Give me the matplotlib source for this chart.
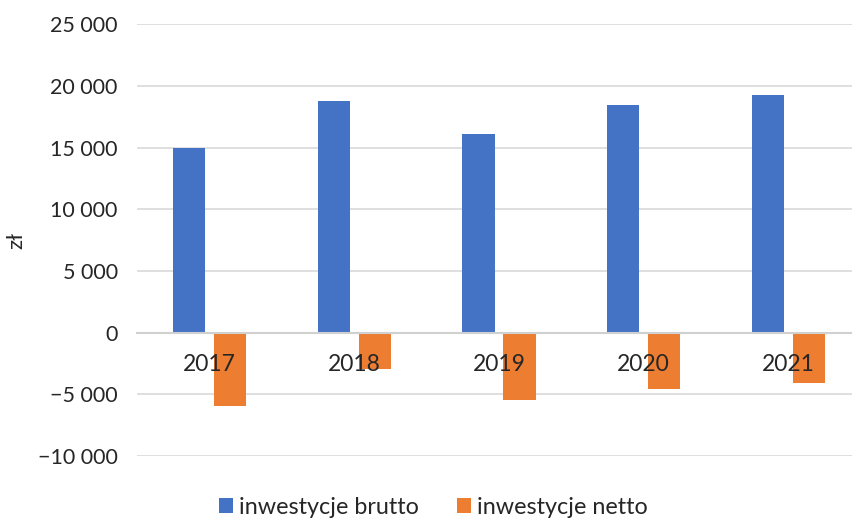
import matplotlib
matplotlib.use("Agg")
import matplotlib.pyplot as plt
from matplotlib.ticker import FuncFormatter, MultipleLocator
import numpy as np

years = ["2017", "2018", "2019", "2020", "2021"]
brutto = [14950, 18750, 16130, 18430, 19260]
netto = [-5960, -2940, -5450, -4540, -4100]
series_names = ["inwestycje brutto", "inwestycje netto"]
colors = ["#4472C4", "#ED7D31"]

plt.rcParams["font.family"] = ["Lato", "DejaVu Sans"]
text_color = "#262626"

W, H = 853, 518
fig = plt.figure(figsize=(W / 100, H / 100), dpi=100)
left_px, right_px = 137.3, 860.7
top_px, bottom_px = 24.2, 456.1
ax = fig.add_axes([left_px / W, 1 - bottom_px / H,
                   (right_px - left_px) / W, (bottom_px - top_px) / H])

x = np.arange(len(years))
bw = 0.224
off = 0.142
ax.bar(x - off, brutto, bw, color=colors[0], label=series_names[0], zorder=2)
ax.bar(x + off, netto, bw, color=colors[1], label=series_names[1], zorder=2)

ax.set_xlim(-0.5, len(years) - 0.5)
ax.set_ylim(-10000, 25000)
ax.yaxis.set_major_locator(MultipleLocator(5000))

def fmt(v, pos):
    s = f"{abs(int(round(v))):,}".replace(",", " ")
    return ("\u2212" + s) if v < 0 else s

ax.yaxis.set_major_formatter(FuncFormatter(fmt))
ax.grid(axis="y", color="#D9D9D9", linewidth=1.2)
ax.set_axisbelow(True)

for s in ["top", "right", "left"]:
    ax.spines[s].set_visible(False)
ax.spines["bottom"].set_position(("data", 0))
ax.spines["bottom"].set_color("#D0D0D0")
ax.spines["bottom"].set_linewidth(1.5)

ax.set_xticks(x)
ax.set_xticklabels(years)
ax.xaxis.set_zorder(3)
ax.tick_params(axis="x", length=0, pad=15, labelsize=16.5, labelcolor=text_color)
ax.tick_params(axis="y", length=0, pad=14, labelsize=15.5, labelcolor=text_color)

ax.set_ylabel("zł", fontsize=16, color=text_color)
ax.yaxis.set_label_coords(-0.153, 0.5)

leg = fig.legend(loc="center", bbox_to_anchor=(0.508, 0.021),
                 bbox_transform=fig.transFigure, ncol=2, frameon=False,
                 fontsize=16.8, handlelength=0.6, handleheight=0.6,
                 handletextpad=0.29, columnspacing=1.6)
for t in leg.get_texts():
    t.set_color(text_color)

fig.savefig("out.png", dpi=100)
